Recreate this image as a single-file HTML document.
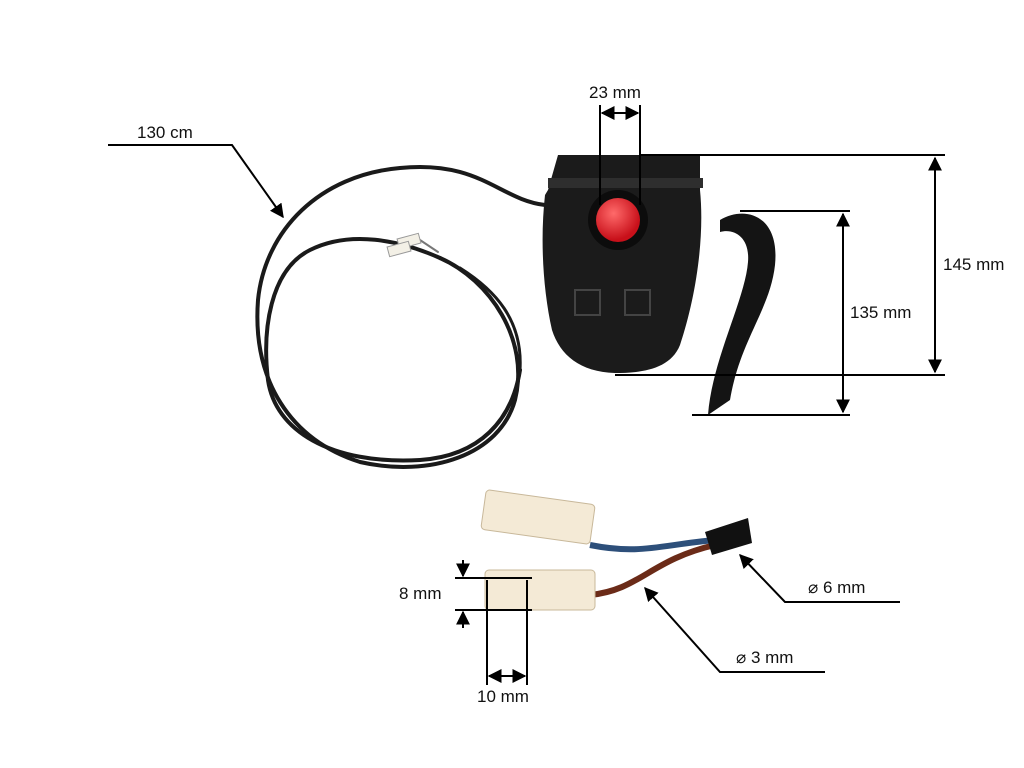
<!DOCTYPE html>
<html><head><meta charset="utf-8"><style>
html,body{margin:0;padding:0;background:#fff;width:1024px;height:768px;overflow:hidden}
svg text{font-family:"Liberation Sans",sans-serif;font-size:17px;fill:#111}
</style></head><body>
<svg width="1024" height="768" viewBox="0 0 1024 768" xmlns="http://www.w3.org/2000/svg">
<defs>
<marker id="a" viewBox="0 0 10 10" refX="9" refY="5" markerWidth="7" markerHeight="7" orient="auto-start-reverse"><path d="M0,0 L10,5 L0,10 z" fill="#000"/></marker>
<radialGradient id="r" cx="40%" cy="35%" r="60%"><stop offset="0" stop-color="#ff6a6a"/><stop offset="1" stop-color="#c8101a"/></radialGradient>
</defs>
<!-- cable loop -->
<g fill="none" stroke="#1a1a1a" stroke-width="4" stroke-linecap="round">
<path d="M545,205 C500,200 480,160 400,168 C320,175 265,230 258,300 C252,380 290,440 360,462 C430,478 500,455 515,400 C530,340 490,280 440,258"/>
<path d="M440,258 C400,240 350,230 310,250 C270,270 262,330 268,380 C275,430 330,465 420,460 C480,456 512,420 520,370"/>
<path d="M520,370 C523,320 495,290 460,268" stroke-width="3"/>
<path d="M438,252 L420,240" stroke="#777" stroke-width="2"/>
</g>
<rect x="398" y="236" width="22" height="10" fill="#f3f0e6" stroke="#999" transform="rotate(-15 409 241)"/>
<rect x="388" y="244" width="22" height="10" fill="#f3f0e6" stroke="#999" transform="rotate(-15 399 249)"/>
<!-- lever -->
<path d="M720,220 C745,205 780,215 775,265 C770,310 740,340 730,400 L708,415 C712,360 745,300 748,262 C750,238 735,228 720,232 z" fill="#141414"/>
<!-- device body -->
<path d="M558,155 L700,155 L700,190 C705,240 695,300 680,345 C670,370 640,373 615,373 C580,372 560,355 552,330 C543,290 540,240 545,195 L548,190 z" fill="#1b1b1b"/>
<rect x="548" y="178" width="155" height="10" fill="#2e2e2e"/>
<circle cx="618" cy="220" r="30" fill="#0c0c0c"/>
<circle cx="618" cy="220" r="22" fill="url(#r)"/>
<g stroke="#444" fill="none" stroke-width="2"><path d="M575,290 h25 v25 h-25z"/><path d="M625,290 h25 v25 h-25z"/></g>
<!-- 130 cm -->
<text x="137" y="138">130 cm</text>
<polyline points="108,145 232,145 283,217" fill="none" stroke="#000" stroke-width="2" marker-end="url(#a)"/>
<!-- 23 mm -->
<text x="589" y="98">23 mm</text>
<g stroke="#000" stroke-width="2" fill="none">
<line x1="600" y1="105" x2="600" y2="205"/><line x1="640" y1="105" x2="640" y2="205"/>
<line x1="602" y1="113" x2="638" y2="113" marker-start="url(#a)" marker-end="url(#a)"/>
<!-- 145 -->
<line x1="640" y1="155" x2="945" y2="155"/><line x1="615" y1="375" x2="945" y2="375"/>
<line x1="935" y1="158" x2="935" y2="372" marker-start="url(#a)" marker-end="url(#a)"/>
<!-- 135 -->
<line x1="740" y1="211" x2="850" y2="211"/><line x1="692" y1="415" x2="850" y2="415"/>
<line x1="843" y1="214" x2="843" y2="412" marker-start="url(#a)" marker-end="url(#a)"/>
</g>
<text x="943" y="270">145 mm</text>
<text x="850" y="318">135 mm</text>
<!-- lower connectors -->
<path d="M590,545 C640,555 660,545 715,540" stroke="#2d4f7a" stroke-width="6" fill="none"/>
<path d="M590,595 C640,590 650,560 715,545" stroke="#6b2b18" stroke-width="6" fill="none"/>
<path d="M705,532 L748,518 L752,543 L712,555 z" fill="#111"/>
<rect x="483" y="497" width="110" height="40" rx="4" fill="#f4ead6" stroke="#c8b89a" transform="rotate(8 538 517)"/>
<rect x="485" y="570" width="110" height="40" rx="4" fill="#f4ead6" stroke="#c8b89a"/>
<g stroke="#000" stroke-width="2" fill="none">
<line x1="455" y1="578" x2="532" y2="578"/><line x1="455" y1="610" x2="532" y2="610"/>
<line x1="463" y1="560" x2="463" y2="576" marker-end="url(#a)"/>
<line x1="463" y1="628" x2="463" y2="612" marker-end="url(#a)"/>
<line x1="487" y1="580" x2="487" y2="685"/><line x1="527" y1="580" x2="527" y2="685"/>
<line x1="489" y1="676" x2="525" y2="676" marker-start="url(#a)" marker-end="url(#a)"/>
<polyline points="900,602 785,602 740,555" marker-end="url(#a)"/>
<polyline points="825,672 720,672 645,588" marker-end="url(#a)"/>
</g>
<text x="399" y="599">8 mm</text>
<text x="477" y="702">10 mm</text>
<text x="808" y="593">⌀ 6 mm</text>
<text x="736" y="663">⌀ 3 mm</text>
</svg>
</body></html>
